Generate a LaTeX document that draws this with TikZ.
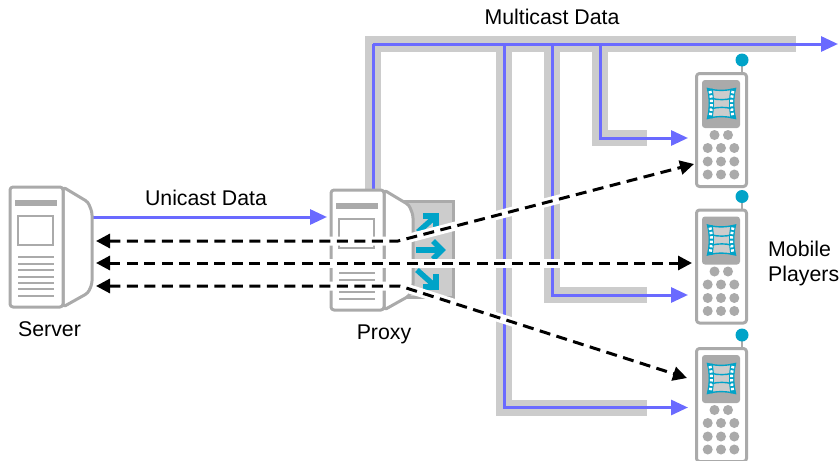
\documentclass[tikz,border=0pt]{standalone}
\usepackage{fontspec}
\setmainfont{Liberation Sans}
\usetikzlibrary{arrows.meta}
\definecolor{bandgray}{HTML}{CCCCCC}
\definecolor{devgray}{HTML}{AAAAAA}
\definecolor{flowblue}{HTML}{6A6AFF}
\definecolor{tealc}{HTML}{00A3C8}
\tikzset{
  x=1pt,y=-1pt,
  band/.style={draw=bandgray,line width=16pt,line join=miter},
  flow/.style={draw=flowblue,line width=3pt,line join=miter},
  flowarrow/.style={flow,-{Triangle[length=17pt,width=15pt]}},
  halo/.style={draw=white,line width=9pt,line cap=butt},
  dashline/.style={draw=black,line width=3pt,dash pattern=on 11pt off 6.5pt},
  bothheads/.style={{Triangle[length=14pt,width=14pt]}-{Triangle[length=14pt,width=14pt]}},
  turn/.style={draw=tealc,line width=5.5pt,line join=miter},
  devline/.style={draw=devgray,line width=3pt,rounded corners=3pt,line join=round},
  label/.style={inner sep=0pt,font=\fontsize{21.3}{25}\selectfont,text=black,align=center},
  pics/serverbox/.style={code={
    \draw[devline,fill=white] (63,187) -- (88,202) -- (92,212) -- (92,284) -- (88,293) -- (63,307) -- cycle;
    \draw[devline,fill=white] (10,187) rectangle (63,307);
    \fill[devgray] (15,200) rectangle (57,206);
    \draw[draw=devgray,line width=1.2pt,fill=white] (18,216) rectangle (53,245);
    \foreach \yy in {257.3,263.7,270,276.7,282.7,289.3,296}
      \draw[devgray,line width=2pt] (18,\yy) -- (54,\yy);
  }},
  pics/phonebox/.style={code={
    \draw[devgray,line width=2.4pt] (742,73) -- (742,60);
    \fill[tealc] (742,60) circle (6.5);
    \draw[devline,fill=white] (696.5,73.5) rectangle (746.5,186.5);
    \fill[devgray,rounded corners=3pt] (702,80) rectangle (740,128);
    \filldraw[fill=bandgray,draw=tealc,line width=1.4pt]
      (707.5,88.5) .. controls (716,91) and (726,91) .. (735.5,88.5)
      .. controls (733,98) and (733,108) .. (735.5,118.5)
      .. controls (726,116) and (716,116) .. (707.5,118.5)
      .. controls (710,108) and (710,98) .. (707.5,88.5) -- cycle;
    \draw[tealc,line width=5pt] (710,89) .. controls (712,98) and (712,108) .. (710,118);
    \draw[tealc,line width=5pt] (733,89) .. controls (731,99) and (731,108) .. (733,118);
    \draw[white,line width=3pt,dash pattern=on 2.4pt off 2pt] (710,91) .. controls (712,99) and (712,108) .. (710,117);
    \draw[white,line width=3pt,dash pattern=on 2.4pt off 2pt] (733,91) .. controls (731,99) and (731,108) .. (733,117);
    \draw[tealc,line width=1.4pt] (712,98.5) .. controls (718,100) and (726,100) .. (731,98.5);
    \draw[tealc,line width=1.4pt] (712,108.5) .. controls (718,107) and (726,107) .. (731,108.5);
    \foreach \bx/\by in {714.5/135,728/135,
       707.7/148,721/148,734.3/148,707.7/161.5,721/161.5,734.3/161.5,707.7/174.5,721/174.5,734.3/174.5}
      \fill[devgray] (\bx,\by) circle (5);
  }},
}
\begin{document}
\begin{tikzpicture}
\useasboundingbox (0,0) rectangle (839,461);
\clip (0,0) rectangle (839,461);
% named junctions
\coordinate (tl) at (373,44);
\coordinate (j1) at (504,44);
\coordinate (j2) at (552,44);
\coordinate (j3) at (600,44);
\coordinate (topend) at (838,44);
\coordinate (proxytop) at (373,192);
\coordinate (b3) at (600,138);
\coordinate (b2) at (552,295);
\coordinate (b1) at (504,407.5);
\coordinate (p1in) at (688,138);
\coordinate (p2in) at (688,295);
\coordinate (p3in) at (688,407.5);
\coordinate (srvout) at (92,217);
\coordinate (prxin) at (327,217);
% gray bands
\draw[band] (proxytop) -- (tl) -- (796,44);
\draw[band] (j1) -- (b1) -- (647,407.5);
\draw[band] (j2) -- (b2) -- (647,295);
\draw[band] (j3) -- (b3) -- (647,138);
% blue flows
\draw[flow] (proxytop) -- (tl);
\draw[flowarrow] (tl) -- (topend);
\draw[flowarrow] (j1) -- (b1) -- (p3in);
\draw[flowarrow] (j2) -- (b2) -- (p2in);
\draw[flowarrow] (j3) -- (b3) -- (p1in);
\draw[flowarrow] (srvout) -- (prxin);
% proxy back panel and turning arrows
\draw[draw=devgray,fill=bandgray,line width=3pt] (400,201.5) -- (453,201.5) -- (453,297) -- (400,297) -- cycle;
\draw[turn] (418,232) -- (436,216);
\draw[turn] (423,216) -- (436,216) -- (436,229);
\draw[turn] (416,250) -- (441,250);
\draw[turn] (433,241) -- (442,250) -- (433,259);
\draw[turn] (417,270) -- (436,287);
\draw[turn] (436,274) -- (436,287) -- (423,287);
% devices
\pic at (0,0) {serverbox};
\pic at (321,3) {serverbox};
\pic at (0,0) {phonebox};
\pic at (0,136.5) {phonebox};
\pic at (0,275) {phonebox};
% connector ends
\coordinate (a1) at (96,241);
\coordinate (a1k) at (398,241);
\coordinate (a1e) at (694,164);
\coordinate (a2) at (96,263);
\coordinate (a2e) at (692,263);
\coordinate (a3) at (96,286);
\coordinate (a3k) at (400,286);
\coordinate (a3e) at (687,378);
% halos
\draw[halo] (112,241) -- (a1k) -- (a1e);
\draw[halo] (112,263) -- (a2e);
\draw[halo] (112,286) -- (a3k) -- (a3e);
% dashed lines
\draw[dashline,bothheads] (a1) -- (a1k) -- (a1e);
\draw[dashline,bothheads] (a2) -- (a2e);
\draw[dashline,bothheads] (a3) -- (a3k) -- (a3e);
% labels
\node[label] (lmc) at (552,17) {Multicast Data};
\node[label] (luc) at (206,198) {Unicast Data};
\node[label] (lsv) at (49.5,329) {Server};
\node[label] (lpx) at (384,334) {Proxy};
\node[label,align=left,anchor=west] (lmp) at (768,263) {Mobile\\Players};
\end{tikzpicture}
\end{document}
